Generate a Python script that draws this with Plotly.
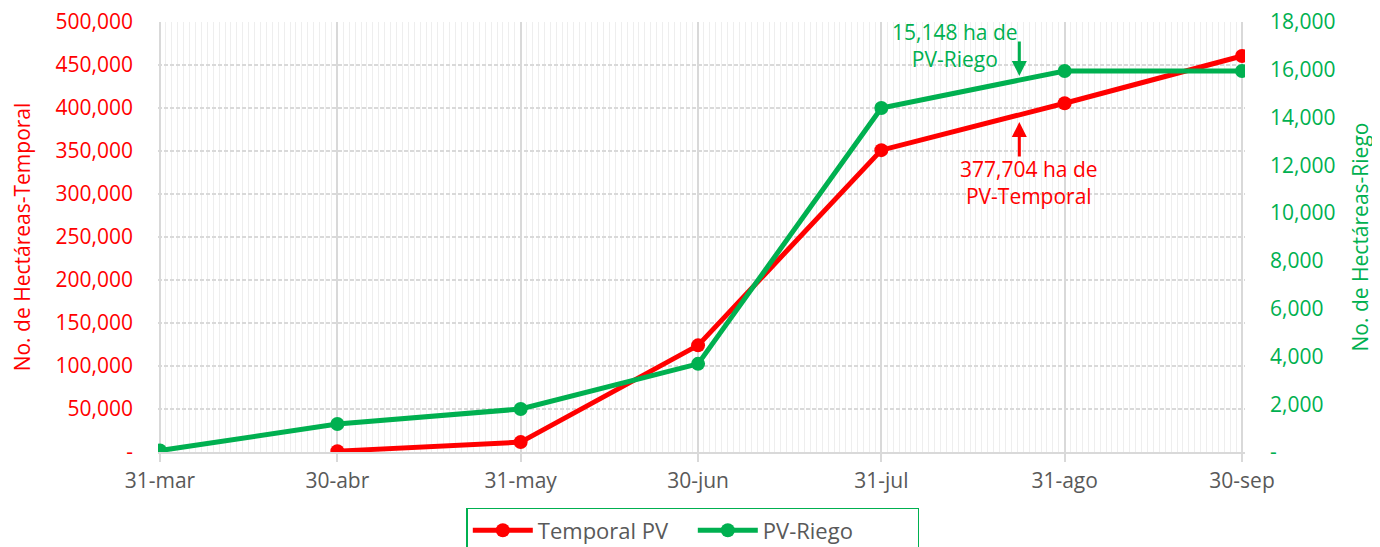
import plotly.graph_objects as go

# ---- data ----
dates = ["2023-03-31", "2023-04-30", "2023-05-31", "2023-06-30",
         "2023-07-31", "2023-08-31", "2023-09-30"]
tick_labels = ["31-mar", "30-abr", "31-may", "30-jun", "31-jul", "31-ago", "30-sep"]

temporal_dates = ["2023-04-30", "2023-05-31", "2023-06-30",
                  "2023-07-31", "2023-08-31", "2023-09-30"]
temporal_vals = [1000, 11500, 124000, 351000, 405500, 460500]

riego_dates = dates
riego_vals = [60, 1170, 1800, 3690, 14400, 15950, 15950]

left_ticks = [0, 50000, 100000, 150000, 200000, 250000, 300000, 350000, 400000, 450000, 500000]
left_text = ["-"] + [f"{v:,}" for v in left_ticks[1:]]
right_ticks = [0, 2000, 4000, 6000, 8000, 10000, 12000, 14000, 16000, 18000]
right_text = ["-"] + [f"{v:,}" for v in right_ticks[1:]]

RED = "#FF0000"
GREEN = "#00B050"
GRAY = "#595959"
FONT = "Open Sans"
FS = 21

fig = go.Figure()
fig.add_trace(go.Scatter(
    x=temporal_dates, y=temporal_vals, name="Temporal PV", mode="lines+markers",
    line=dict(color=RED, width=5), marker=dict(color=RED, size=14), yaxis="y"))
fig.add_trace(go.Scatter(
    x=riego_dates, y=riego_vals, name="PV-Riego", mode="lines+markers",
    line=dict(color=GREEN, width=5), marker=dict(color=GREEN, size=14), yaxis="y2"))

fig.update_layout(
    width=1380, height=547,
    margin=dict(l=150, r=143, t=14, b=103, autoexpand=False),
    paper_bgcolor="white", plot_bgcolor="white",
    font=dict(family=FONT, size=FS, color=GRAY),
    xaxis=dict(
        type="date", automargin=False,
        range=["2023-03-30 16:00", "2023-09-30 12:00"],
        tickvals=dates, ticktext=tick_labels,
        tickfont=dict(color=GRAY, size=FS),
        showgrid=True, gridcolor="#D9D9D9", gridwidth=1.5,
        ticks="outside", ticklen=8, tickcolor="#D9D9D9", tickwidth=1.5,
        showline=True, linecolor="#D9D9D9", linewidth=2,
        minor=dict(dtick=86400000, tick0="2023-03-31", showgrid=True,
                   gridcolor="#EEEEEE", gridwidth=1, ticks="", griddash="solid"),
        ticklabelstandoff=1, ticklabeloverflow="allow",
    ),
    yaxis=dict(
        automargin=False,
        range=[0, 500000], tickvals=left_ticks, ticktext=left_text,
        tickfont=dict(color=RED, size=FS),
        showgrid=True, gridcolor="#D9D9D9", gridwidth=1.5, griddash="4px,2px",
        zeroline=False, showline=False,
        ticklabelstandoff=24, ticklabeloverflow="allow",
        title=dict(text="No. de Hectáreas-Temporal", font=dict(color=RED, size=FS), standoff=22),
    ),
    yaxis2=dict(
        automargin=False,
        range=[0, 18000], tickvals=right_ticks, ticktext=right_text,
        overlaying="y", side="right",
        tickfont=dict(color=GREEN, size=FS),
        showgrid=False, zeroline=False, showline=False,
        ticklabelstandoff=24, ticklabeloverflow="allow",
        title=dict(text="No. de Hectáreas-Riego", font=dict(color=GREEN, size=FS), standoff=18),
    ),
    legend=dict(
        orientation="h", x=0.492, xanchor="center", y=-0.13, yanchor="top",
        bordercolor=GREEN, borderwidth=1.5, bgcolor="white",
        font=dict(color=GRAY, size=22), itemwidth=60, entrywidth=150,
    ),
    showlegend=True,
)

# annotations
fig.add_annotation(x="2023-08-23 08:00", y=15740, yref="y2", text="", showarrow=True,
                   arrowhead=2, arrowsize=1, arrowwidth=3, arrowcolor=GREEN,
                   ax=0, ay=-36)
fig.add_annotation(x="2023-08-12 12:00", y=17000, yref="y2", text="15,148 ha de<br>PV-Riego",
                   showarrow=False, font=dict(color=GREEN, size=FS), align="center")
fig.add_annotation(x="2023-08-23 08:00", y=383700, yref="y", text="", showarrow=True,
                   arrowhead=2, arrowsize=1, arrowwidth=3, arrowcolor=RED,
                   ax=0, ay=36)
fig.add_annotation(x="2023-08-25", y=313000, yref="y", text="377,704 ha de<br>PV-Temporal",
                   showarrow=False, font=dict(color=RED, size=FS), align="center")

fig.write_html("out.html")
